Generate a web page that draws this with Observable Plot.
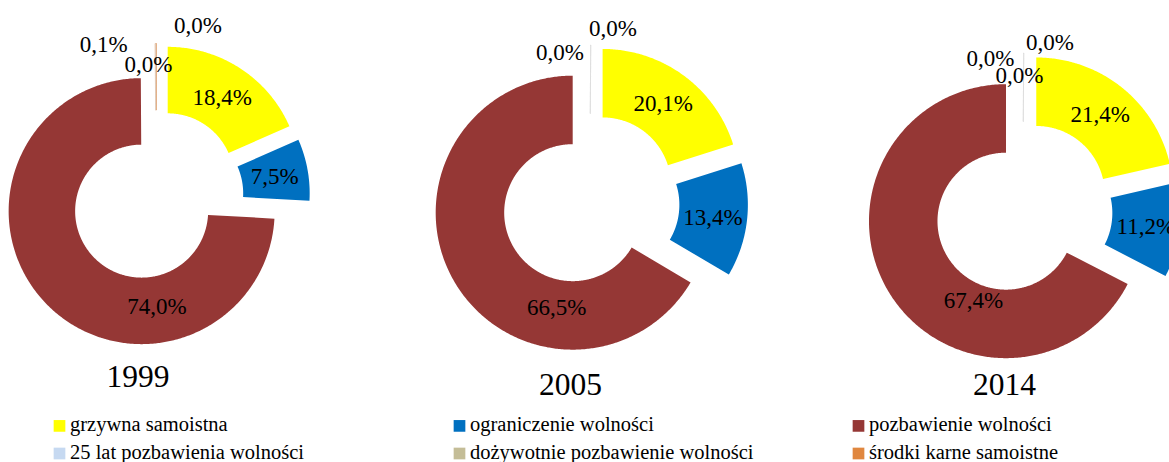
<!DOCTYPE html>
<html>
<head>
<meta charset="utf-8">
<script src="https://cdn.jsdelivr.net/npm/d3@7"></script>
<script src="https://cdn.jsdelivr.net/npm/@observablehq/plot@0.6"></script>
<style>
  html, body { margin: 0; padding: 0; background: #fff; }
  #chart { width: 1169px; height: 462px; overflow: hidden; }
</style>
</head>
<body>
<div id="chart"></div>
<script>
// ---- data ----
const categories = [
  "grzywna samoistna",
  "ograniczenie wolności",
  "pozbawienie wolności",
  "25 lat pozbawienia wolności",
  "dożywotnie pozbawienie wolności",
  "środki karne samoistne"
];
const years = ["1999", "2005", "2014"];
const share1999 = [18.4, 7.5, 74.0, 0.0, 0.0, 0.1];
const share2005 = [20.1, 13.4, 66.5, 0.0, 0.0, 0.0];
const share2014 = [21.4, 11.2, 67.4, 0.0, 0.0, 0.0];
const shares = [share1999, share2005, share2014];

// ---- styles / layout ----
const palette = ["#FFFF00", "#0070C0", "#953735", "#C6D9F1", "#C4BD97", "#E0873F"];
const donutLayout = [
  {cx: 156, cy: 196.5, R: 133, yearX: 137.5, yearY: 386.7},
  {cx: 590, cy: 202,   R: 137, yearX: 570,   yearY: 394},
  {cx: 1023, cy: 210,  R: 137, yearX: 1004,  yearY: 394}
];
const explode = 20.5;
const holeRatio = 0.5;
// label nudges (dx, dy) relative to the default label spot, per donut, per category
// (null = label hidden behind another one in the original)
const labelNudge = [
  [[0,0],[0,0],[87.7,26.1],[-7.3,-13.3],[42.2,-52.3],[-52.3,-33.3]],
  [[0,0],[0,0],[73.3,42.6],[-30.5,-27.75],[22.5,-52],null],
  [[0,0],[0,0],[55.3,25],[-33,-29.25],[-4,-12.25],[26.5,-45.25]]
];
const legendCols = [53, 453, 852];
const legendRows = [430.7, 458.3];

// ---- geometry from data ----
const polys = [];
const labels = [];
shares.forEach((vals, k) => {
  const L = donutLayout[k];
  const total = d3.sum(vals);
  const r = L.R * holeRatio;
  let acc = 0;
  vals.forEach((v, i) => {
    const a0 = acc / total * 2 * Math.PI;
    acc += v;
    const a1 = acc / total * 2 * Math.PI;
    const m = (a0 + a1) / 2;
    const ox = L.cx + explode * Math.sin(m);
    const oy = L.cy - explode * Math.cos(m);
    const id = years[k] + "-" + i;
    const n = Math.max(2, Math.ceil((a1 - a0) / 0.01));
    const pts = [];
    for (let j = 0; j <= n; j++) {
      const a = a0 + (a1 - a0) * j / n;
      pts.push({x: ox + L.R * Math.sin(a), y: oy - L.R * Math.cos(a)});
    }
    for (let j = n; j >= 0; j--) {
      const a = a0 + (a1 - a0) * j / n;
      pts.push({x: ox + r * Math.sin(a), y: oy - r * Math.cos(a)});
    }
    pts.forEach(p => polys.push({...p, id, cat: categories[i], value: v}));
    const nd = labelNudge[k][i];
    if (nd) {
      const rm = (L.R + r) / 2;
      labels.push({
        x: ox + rm * Math.sin(m) + nd[0],
        y: oy - rm * Math.cos(m) + 1 + nd[1],
        text: v.toFixed(1).replace(".", ",") + "%"
      });
    }
  });
});

const yearLabels = years.map((y, k) => ({x: donutLayout[k].yearX, y: donutLayout[k].yearY, text: y}));
const legend = categories.map((c, i) => ({
  cat: c,
  x: legendCols[i % 3],
  y: legendRows[Math.floor(i / 3)]
}));

const serif = "Liberation Serif";

const chart = Plot.plot({
  width: 1169,
  height: 462,
  margin: 0,
  x: {domain: [0, 1169], range: [0, 1169], axis: null},
  y: {domain: [0, 462], range: [0, 462], axis: null},
  color: {domain: categories, range: palette},
  style: {background: "#fff", fontFamily: serif, color: "#000"},
  marks: [
    Plot.line(polys.filter(d => d.value >= 0.5), {
      x: "x", y: "y", z: "id", fill: "cat", stroke: "none", curve: "linear-closed"
    }),
    Plot.line(polys.filter(d => d.value > 0 && d.value < 0.5), {
      x: "x", y: "y", z: "id", fill: "cat", stroke: "cat", strokeWidth: 1, strokeOpacity: 0.6, curve: "linear-closed"
    }),
    Plot.line(polys.filter(d => d.value === 0), {
      x: "x", y: "y", z: "id", fill: "none", stroke: "#d9d9d9", strokeWidth: 0.6, strokeOpacity: 0.5, curve: "linear-closed"
    }),
    Plot.text(labels, {
      x: "x", y: "y", text: "text", fontSize: 23, fontFamily: serif, fill: "#000",
      textAnchor: "middle", lineAnchor: "middle"
    }),
    Plot.text(yearLabels, {
      x: "x", y: "y", text: "text", fontSize: 31.5, fontFamily: serif, fill: "#000",
      textAnchor: "middle", lineAnchor: "bottom"
    }),
    Plot.dot(legend, {
      x: d => d.x + 6, y: d => d.y - 5.3, symbol: "square", r: 6.6, fill: "cat", stroke: "none"
    }),
    Plot.text(legend, {
      x: d => d.x + 16.5, y: "y", text: "cat", fontSize: 20.5, fontFamily: serif, fill: "#000",
      textAnchor: "start", lineAnchor: "bottom", ariaLabel: "legend-text"
    })
  ]
});
document.getElementById("chart").appendChild(chart);
chart.querySelectorAll('g[aria-label="legend-text"]').forEach(g => g.setAttribute("letter-spacing", "1.1"));
</script>
</body>
</html>
